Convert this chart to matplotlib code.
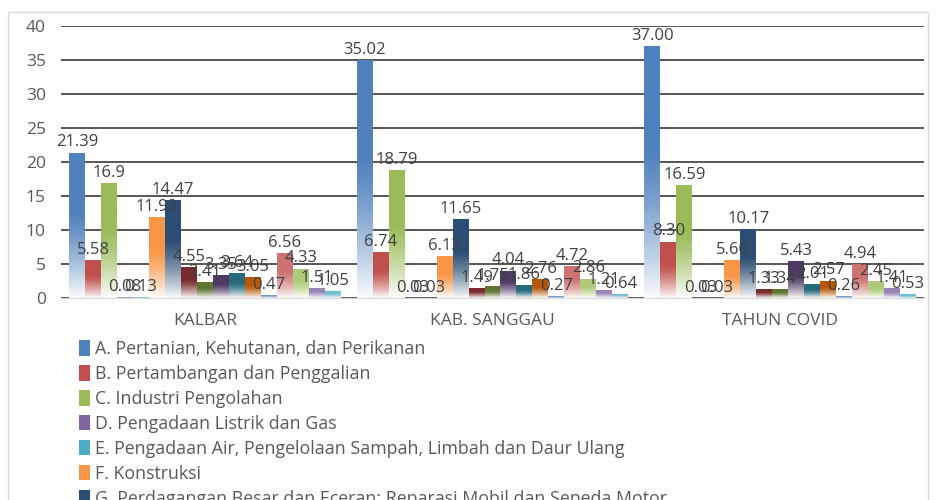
import numpy as np
import matplotlib
matplotlib.use("Agg")
import matplotlib.pyplot as plt
from matplotlib.patches import Patch, Rectangle

plt.rcParams['font.family'] = ['Open Sans', 'DejaVu Sans']

groups = ["KALBAR", "KAB. SANGGAU", "TAHUN COVID"]

sektor = [
    "A. Pertanian, Kehutanan, dan Perikanan",
    "B. Pertambangan dan Penggalian",
    "C. Industri Pengolahan",
    "D. Pengadaan Listrik dan Gas",
    "E. Pengadaan Air, Pengelolaan Sampah, Limbah dan Daur Ulang",
    "F. Konstruksi",
    "G. Perdagangan Besar dan Eceran; Reparasi Mobil dan Sepeda Motor",
    "H. Transportasi dan Pergudangan",
    "I. Penyediaan Akomodasi dan Makan Minum",
    "J. Informasi dan Komunikasi",
    "K. Jasa Keuangan dan Asuransi",
    "L. Real Estate",
    "M,N. Jasa Perusahaan",
    "O. Administrasi Pemerintahan, Pertahanan dan Jaminan Sosial Wajib",
    "P. Jasa Pendidikan",
    "Q. Jasa Kesehatan dan Kegiatan Sosial",
    "R,S,T,U. Jasa Lainnya",
]

# label text as shown on the chart (one list per group)
kalbar = ["21.39", "5.58", "16.9", "0.08", "0.13", "11.92", "14.47", "4.55", "2.41",
          "3.35", "3.64", "3.05", "0.47", "6.56", "4.33", "1.51", "1.05"]
sanggau = ["35.02", "6.74", "18.79", "0.03", "0.03", "6.13", "11.65", "1.49", "1.75",
           "4.04", "1.86", "2.76", "0.27", "4.72", "2.86", "1.21", "0.64"]
covid = ["37.00", "8.30", "16.59", "0.03", "0.03", "5.60", "10.17", "1.33", "1.34",
         "5.43", "2.01", "2.57", "0.26", "4.94", "2.45", "1.41", "0.53"]

colors = ["#4F81BD", "#C0504D", "#9BBB59", "#8064A2", "#4BACC6", "#F79646",
          "#2C4D75", "#772C2A", "#5F7530", "#4D3B62", "#276A7C", "#B65708",
          "#729ACA", "#CD7371", "#AFC97A", "#9983B5", "#6FBDD1"]

table = np.array([kalbar, sanggau, covid]).T  # rows = sektor, cols = group

fig = plt.figure(figsize=(9.36, 5), dpi=100)
ax = fig.add_axes([61/936, 1-298/500, 863/936, 272/500])

# chart area border
fig.patches.append(Rectangle((8/936, -0.1), 920/936, 1.1-12/500, transform=fig.transFigure,
                             fill=False, edgecolor="#d9d9d9", lw=1))

x = np.arange(len(groups))
n = len(sektor)
w = 0.944 / n


def gradient(color):
    rgb = np.array(matplotlib.colors.to_rgb(color))
    t = np.linspace(0, 1, 256)[:, None]
    k = np.clip((t - 0.4) / 0.6, 0, 1) ** 1.3 * 0.97
    img = rgb[None, :] * (1 - k) + k
    return img[:, None, :]


for i in range(n):
    vals = table[i].astype(float)
    bars = ax.bar(x - 0.472 + w * (i + 0.5), vals, w, color="none", zorder=2)
    grad = gradient(colors[i])
    for b, txt in zip(bars, table[i]):
        x0, h = b.get_x(), b.get_height()
        im = ax.imshow(grad, extent=[x0, x0 + b.get_width(), 0, h], aspect="auto",
                       origin="upper", zorder=2)
        im.set_clip_path(b)
        ax.annotate(txt, (x0 + b.get_width() / 2, h), xytext=(0, 1.5),
                    textcoords="offset points", ha="center", va="bottom",
                    fontsize=12, color="#404040", zorder=3)

ax.set_xlim(-0.5, 2.5)
ax.set_ylim(0, 40)
ax.set_yticks(range(0, 45, 5))
ax.set_xticks(x)
ax.set_xticklabels(groups)
ax.tick_params(length=0, labelsize=12.5, colors="#595959")
ax.tick_params(axis="y", pad=11)
ax.tick_params(axis="x", pad=11)
for s in ["top", "right", "left"]:
    ax.spines[s].set_visible(False)
ax.spines["bottom"].set_color("#d9d9d9")
ax.yaxis.grid(True, color="#3a3a3a", lw=1.2, zorder=0)
ax.set_axisbelow(True)

handles = [Patch(facecolor=c) for c in colors]
fig.legend(handles, sektor, loc="upper left", bbox_to_anchor=(72/936, 1-333/500),
           frameon=False, fontsize=12.8, labelcolor="#595959", handlelength=0.6,
           handleheight=0.95, handletextpad=0.3, labelspacing=0.39, borderaxespad=0)

fig.savefig("out.png", dpi=100)
